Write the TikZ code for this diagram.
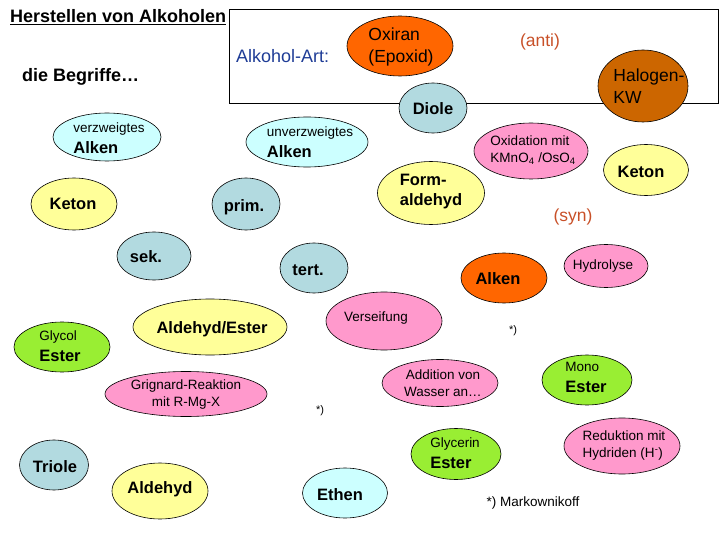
\documentclass[tikz,border=0pt]{standalone}
\usepackage{fontspec}
\setmainfont{Liberation Sans}
\usetikzlibrary{shapes.geometric}
\definecolor{cyanl}{RGB}{204,255,255}
\definecolor{bgrey}{RGB}{178,218,224}
\definecolor{yel}{RGB}{255,255,153}
\definecolor{pinkc}{RGB}{255,153,204}
\definecolor{grn}{RGB}{153,238,51}
\definecolor{orng}{RGB}{255,102,0}
\definecolor{brwn}{RGB}{204,102,0}
\definecolor{antired}{RGB}{200,80,40}
\definecolor{artblue}{RGB}{30,60,150}
\tikzset{
  blob/.style 2 args={ellipse, draw=black, line width=0.6pt,
    minimum width=2*#1, minimum height=2*#2, inner sep=0pt},
  bigt/.style={inner sep=0pt, font=\fontsize{16.5}{20}\selectfont\bfseries},
  smallt/.style={inner sep=0pt, align=center, font=\fontsize{13.5}{17}\selectfont},
  midt/.style={inner sep=0pt, align=left, font=\fontsize{17.5}{22}\selectfont},
  twot/.style={inner sep=0pt, align=left, font=\fontsize{16.5}{21}\selectfont},
  tinyt/.style={inner sep=0pt, font=\fontsize{11}{13}\selectfont},
}
\newcommand{\smf}{\fontsize{13.5}{16}\selectfont}
\newcommand{\bgf}{\fontsize{16.5}{20}\selectfont\bfseries}
\begin{document}
\begin{tikzpicture}[x=1pt, y=-1pt]
\useasboundingbox (0,0) rectangle (720,540);
% title and headings
\node[anchor=base west, inner sep=0pt, font=\fontsize{18}{22}\selectfont\bfseries] (title) at (10,23) {\underline{Herstellen von Alkoholen}};
\node[anchor=base west, inner sep=0pt, font=\fontsize{18}{22}\selectfont\bfseries] (begr) at (22,82) {die Begriffe…};
% frame
\draw[line width=0.7pt] (229,9) rectangle (718,103);
\node[anchor=base west, inner sep=0pt, text=artblue, font=\fontsize{18}{21}\selectfont] (art) at (236,63) {Alkohol-Art:};
\node[anchor=base, inner sep=0pt, text=antired, font=\fontsize{17.5}{21}\selectfont] (anti) at (540,47) {(anti)};
\node[anchor=base, inner sep=0pt, text=antired, font=\fontsize{17.5}{21}\selectfont] (syn) at (573,222) {(syn)};

% ellipses
\node[blob={53}{30}, fill=orng] (oxi) at (400,46) {};
\node[midt] at (401,47) {Oxiran\\(Epoxid)};
\node[blob={45}{36}, fill=brwn] (halo) at (643,86) {};
\node[midt] at (649,86) {Halogen-\\KW};
\node[blob={34}{25}, fill=bgrey] (diole) at (433,108) {};
\node[bigt] at (433,109) {Diole};

\node[blob={54}{24}, fill=cyanl] (verz) at (107,137) {};
\node[twot] at (109,138) {{\smf verzweigtes}\\{\bgf Alken}};
\node[blob={61}{25}, fill=cyanl] (unverz) at (307,142) {};
\node[twot] at (310,142) {{\smf unverzweigtes}\\{\bgf Alken}};

\node[blob={43}{26}, fill=yel] (keton1) at (74,204) {};
\node[bigt] at (73,204) {Keton};
\node[blob={34}{26}, fill=bgrey] (prim) at (246,204) {};
\node[bigt] at (244,207) {prim.};
\node[blob={57}{28}, fill=pinkc] (oxid) at (531,151) {};
\node[smallt, align=left] at (533,150) {Oxidation mit\\KMnO\textsubscript{4} /OsO\textsubscript{4}};
\node[blob={42.5}{25.5}, fill=yel] (keton2) at (646,170) {};
\node[bigt] at (641,172) {Keton};
\node[blob={53.5}{31.5}, fill=yel] (form) at (431,193) {};
\node[twot, font=\fontsize{16.5}{20}\selectfont\bfseries] at (431,192) {Form-\\aldehyd};

\node[blob={37}{24}, fill=bgrey] (sek) at (154,256) {};
\node[bigt] at (146,257) {sek.};
\node[blob={34}{25}, fill=bgrey] (tert) at (314,268) {};
\node[bigt] at (308,270) {tert.};
\node[blob={43}{25}, fill=orng] (alken) at (504,278) {};
\node[bigt] at (498,279) {Alken};
\node[blob={42}{21.5}, fill=pinkc] (hydro) at (606,266) {};
\node[smallt] at (603,266) {Hydrolyse};

\node[blob={58}{29}, fill=pinkc] (vers) at (384,321) {};
\node[smallt] at (376,318) {Verseifung};
\node[blob={77}{28}, fill=yel] (aldest) at (210,327) {};
\node[bigt] at (212,329) {Aldehyd/Ester};
\node[blob={48}{25}, fill=grn] (glycol) at (62,347) {};
\node[twot] at (60,346) {{\smf Glycol}\\{\bgf Ester}};
\node[tinyt] (st1) at (513,331) {*)};

\node[blob={81}{22.5}, fill=pinkc] (grig) at (186,394) {};
\node[smallt] at (186,395) {Grignard-Reaktion\\mit R-Mg-X};
\node[blob={58}{23.5}, fill=pinkc] (addw) at (440,383) {};
\node[smallt] at (443,383) {Addition von\\Wasser an…};
\node[blob={45}{25}, fill=grn] (mono) at (587,380) {};
\node[twot] at (586,377) {{\smf Mono}\\{\bgf Ester}};
\node[tinyt] (st2) at (320,411) {*)};

\node[blob={34.5}{25}, fill=bgrey] (triole) at (54,465) {};
\node[bigt] at (55,467) {Triole};
\node[blob={48}{28}, fill=yel] (aldeh) at (160,491) {};
\node[bigt] at (160,489) {Aldehyd};
\node[blob={42.5}{25}, fill=cyanl] (ethen) at (345,493) {};
\node[bigt] at (340,495) {Ethen};
\node[blob={45}{25.5}, fill=grn] (glycer) at (456,454) {};
\node[twot] at (455,453) {{\smf Glycerin}\\{\bgf Ester}};
\node[blob={58}{28}, fill=pinkc] (redu) at (622,446) {};
\node[smallt, align=left] at (624,446) {Reduktion mit\\Hydriden (H\textsuperscript{-})};
\node[smallt] (mark) at (533,503) {*) Markownikoff};
\end{tikzpicture}
\end{document}
